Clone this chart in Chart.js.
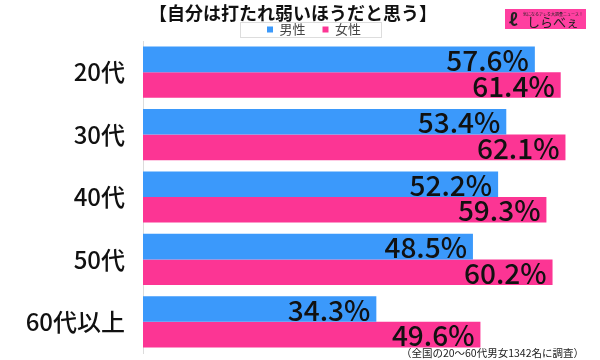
<!DOCTYPE html>
<html>
<head>
<meta charset="utf-8">
<script src="https://cdn.jsdelivr.net/npm/chart.js@4/dist/chart.umd.min.js"></script>
<style>
  body { margin: 0; background: #fff; }
  #wrap { width: 600px; height: 360px; }
</style>
</head>
<body>
<div id="wrap"><canvas id="chart"></canvas></div>
<script>
const CATEGORIES = ['20代', '30代', '40代', '50代', '60代以上'];
const MALE = [57.6, 53.4, 52.2, 48.5, 34.3];
const FEMALE = [61.4, 62.1, 59.3, 60.2, 49.6];
const SERIES_NAMES = ['男性', '女性'];

const TITLE = '【自分は打たれ弱いほうだと思う】';
const NOTE = '（全国の20〜60代男女1342名に調査）';
const COLORS = ['#3b99fb', '#fc3594'];
const FONT = "'Noto Sans CJK JP', 'Noto Sans', sans-serif";

// move the legend a bit to the right, like the original
const legend_shift = {
    id: 'legend_shift',
    afterLayout(chart){
        const legend = chart.legend;
        if (!legend.lineWidths) return;
        const pad = legend.options.labels.padding;
        const start = (legend.left + pad + legend.right - legend.lineWidths[0]) / 2;
        const shift = 267 - start;
        legend.left += shift;
        legend.right += shift;
    }
};

// title, legend frame, logo and footnote
const decorations = {
    id: 'decorations',
    afterDraw(chart){
        const ctx = chart.ctx;
        ctx.save();
        ctx.fillStyle = '#111';
        ctx.font = 'bold 18px ' + FONT;
        ctx.textAlign = 'center';
        ctx.textBaseline = 'middle';
        ctx.fillText(TITLE, 293, 13);

        const boxes = chart.legend.legendHitBoxes;
        if (boxes.length){
            const first = boxes[0];
            const last = boxes[boxes.length - 1];
            ctx.strokeStyle = '#dddddd';
            ctx.lineWidth = 1;
            ctx.strokeRect(first.left - 26.5, 22.5, (last.left + last.width) - first.left + 47, 15);
        }

        // logo
        ctx.fillStyle = '#ff3fa0';
        ctx.fillRect(505, 9, 81, 20);
        ctx.fillStyle = '#222';
        ctx.font = '4px ' + FONT;
        ctx.fillText('気になるアレを大調査ニュース！', 553, 14);
        ctx.font = 'bold 17px ' + FONT;
        ctx.fillText('ℓ', 513, 20);
        ctx.font = '13px ' + FONT;
        ctx.fillText('しらべぇ', 553, 22);

        // footnote
        ctx.fillStyle = '#222';
        ctx.font = '10.5px ' + FONT;
        ctx.textAlign = 'right';
        ctx.fillText(NOTE, 584, 353);
        ctx.restore();
    }
};

// value labels inside the bar ends
const value_labels = {
    id: 'value_labels',
    afterDatasetsDraw(chart){
        const ctx = chart.ctx;
        ctx.save();
        ctx.fillStyle = '#111';
        ctx.font = '500 28px ' + FONT;
        ctx.textAlign = 'right';
        ctx.textBaseline = 'middle';
        chart.data.datasets.forEach((dataset, i) => {
            chart.getDatasetMeta(i).data.forEach((bar, j) => {
                ctx.fillText(dataset.data[j].toFixed(1) + '%', bar.x - 6, bar.y + 1);
            });
        });
        ctx.restore();
    }
};

const data = {
    labels: CATEGORIES,
    datasets: [
        { label: SERIES_NAMES[0], data: MALE, backgroundColor: COLORS[0], borderWidth: 0 },
        { label: SERIES_NAMES[1], data: FEMALE, backgroundColor: COLORS[1], borderWidth: 0 }
    ]
};

const config = {
    type: 'bar',
    data: data,
    options: {
        indexAxis: 'y',
        responsive: true,
        maintainAspectRatio: false,
        animation: false,
        categoryPercentage: 0.82,
        barPercentage: 1.0,
        layout: { padding: { top: 6, left: 0, right: 8, bottom: 7 } },
        scales: {
            x: { display: false, min: 0, max: 66 },
            y: {
                grid: { display: false, drawTicks: false },
                border: { display: true, color: '#dcdcdc', width: 1 },
                ticks: { color: '#111', padding: 18, font: { family: FONT, size: 24, weight: '500' } },
                afterFit(scale){
                    scale.width = 143;
                    scale.paddingTop = 0;
                    scale.paddingBottom = 0;
                }
            }
        },
        plugins: {
            title: { display: false },
            tooltip: { enabled: false },
            legend: {
                position: 'top',
                maxHeight: 35,
                labels: {
                    boxWidth: 6,
                    boxHeight: 6,
                    padding: 17,
                    color: '#444',
                    font: { family: FONT, size: 13 }
                }
            }
        }
    },
    plugins: [legend_shift, decorations, value_labels]
};

new Chart(document.getElementById('chart'), config);
</script>
</body>
</html>
